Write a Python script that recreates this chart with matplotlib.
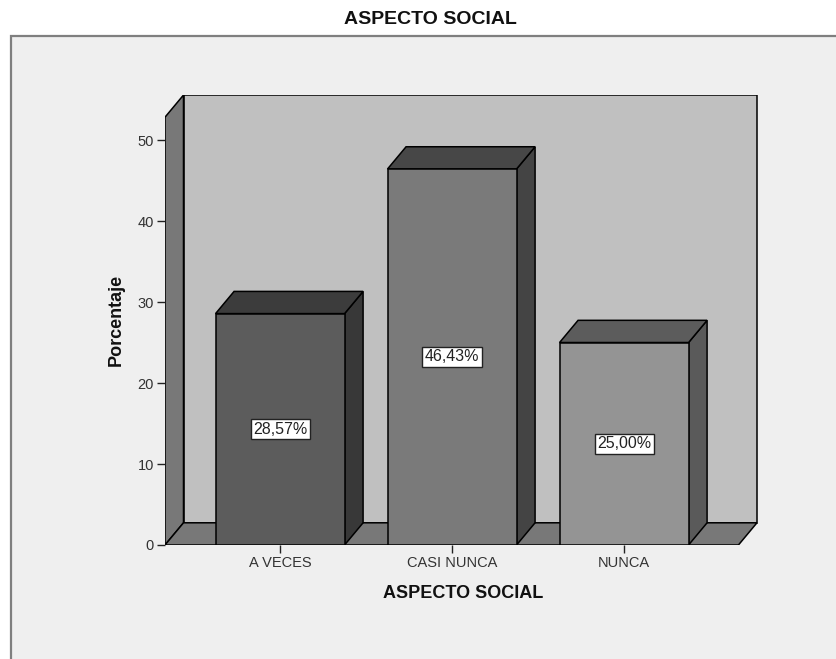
import matplotlib
matplotlib.use("Agg")
import matplotlib.pyplot as plt
from matplotlib.patches import Polygon, Rectangle

plt.rcParams['font.family'] = ['Liberation Sans Narrow', 'Liberation Sans', 'DejaVu Sans']

categories = ["A VECES", "CASI NUNCA", "NUNCA"]
values = [28.57, 46.43, 25.00]
labels = ["28,57%", "46,43%", "25,00%"]
yticks = [0, 10, 20, 30, 40, 50]

front_colors = ["#5c5c5c", "#7a7a7a", "#949494"]
top_colors = ["#3c3c3c", "#474747", "#5c5c5c"]
side_colors = ["#383838", "#444444", "#5a5a5a"]

W, H = 836, 659
fig = plt.figure(figsize=(W / 100, H / 100), dpi=100)
fig.patch.set_facecolor("white")

# outer chart frame, drawn in a background axes
bg = fig.add_axes([0, 0, 1, 1], zorder=-5)
bg.set_xlim(0, W)
bg.set_ylim(H, 0)
bg.axis("off")
bg.add_patch(Rectangle((11, 36), W + 20, H, facecolor="#efefef",
                       edgecolor="#7f7f7f", linewidth=1.6))

fig.text(430 / W, 1 - 19 / H, "ASPECTO SOCIAL", ha="center", va="center",
         fontsize=14, fontweight="bold", color="#111111")

x_left, x_right = -0.669, 2.8
y_top = 55.56
ax = fig.add_axes([165 / W, (H - 545) / H, (x_right - x_left) * 172 / W, 450 / H], zorder=1)
ax.set_xlim(x_left, x_right)
ax.set_ylim(0, y_top)
ax.patch.set_alpha(0)
for s in ax.spines.values():
    s.set_visible(False)

dx, dy = 0.1076, 2.74
wall_top = y_top - dy
floor_right = 2.665
lw = 1.1

# back wall, left wall and floor
ax.add_patch(Polygon([(x_left + dx, dy), (floor_right + dx, dy),
                      (floor_right + dx, wall_top + dy), (x_left + dx, wall_top + dy)],
                     closed=True, facecolor="#c0c0c0", edgecolor="black", linewidth=lw, zorder=1))
ax.add_patch(Polygon([(x_left, 0), (x_left + dx, dy), (x_left + dx, wall_top + dy), (x_left, wall_top)],
                     closed=True, facecolor="#787878", edgecolor="black", linewidth=lw, zorder=2))
ax.add_patch(Polygon([(x_left, 0), (floor_right, 0), (floor_right + dx, dy), (x_left + dx, dy)],
                     closed=True, facecolor="#787878", edgecolor="black", linewidth=lw, zorder=2))

bw = 0.75
for i, (v, lab) in enumerate(zip(values, labels)):
    x0, x1 = i - bw / 2, i + bw / 2
    ax.add_patch(Polygon([(x1, 0), (x1 + dx, dy), (x1 + dx, v + dy), (x1, v)], closed=True,
                         facecolor=side_colors[i], edgecolor="black", linewidth=lw, zorder=3))
    ax.add_patch(Polygon([(x0, v), (x1, v), (x1 + dx, v + dy), (x0 + dx, v + dy)], closed=True,
                         facecolor=top_colors[i], edgecolor="black", linewidth=lw, zorder=3))
    ax.add_patch(Rectangle((x0, 0), bw, v, facecolor=front_colors[i],
                           edgecolor="black", linewidth=lw, zorder=4))
    ax.text(i, v / 2, lab, ha="center", va="center", fontsize=11.5, color="#222222", zorder=5,
            bbox=dict(boxstyle="square,pad=0.15", facecolor="white", edgecolor="#222222", linewidth=1))

ax.set_yticks(yticks)
ax.set_yticklabels([str(t) for t in yticks])
ax.set_xticks(range(len(categories)))
ax.set_xticklabels(categories)
ax.tick_params(axis="both", direction="out", length=6, width=1, color="#222222",
               labelcolor="#333333", labelsize=10.5, pad=2)

ax.set_ylabel("Porcentaje", fontsize=13, fontweight="bold", color="#111111", labelpad=9)
ax.set_xlabel("ASPECTO SOCIAL", fontsize=13, fontweight="bold", color="#111111", labelpad=11)

fig.savefig("out.png", dpi=100)
